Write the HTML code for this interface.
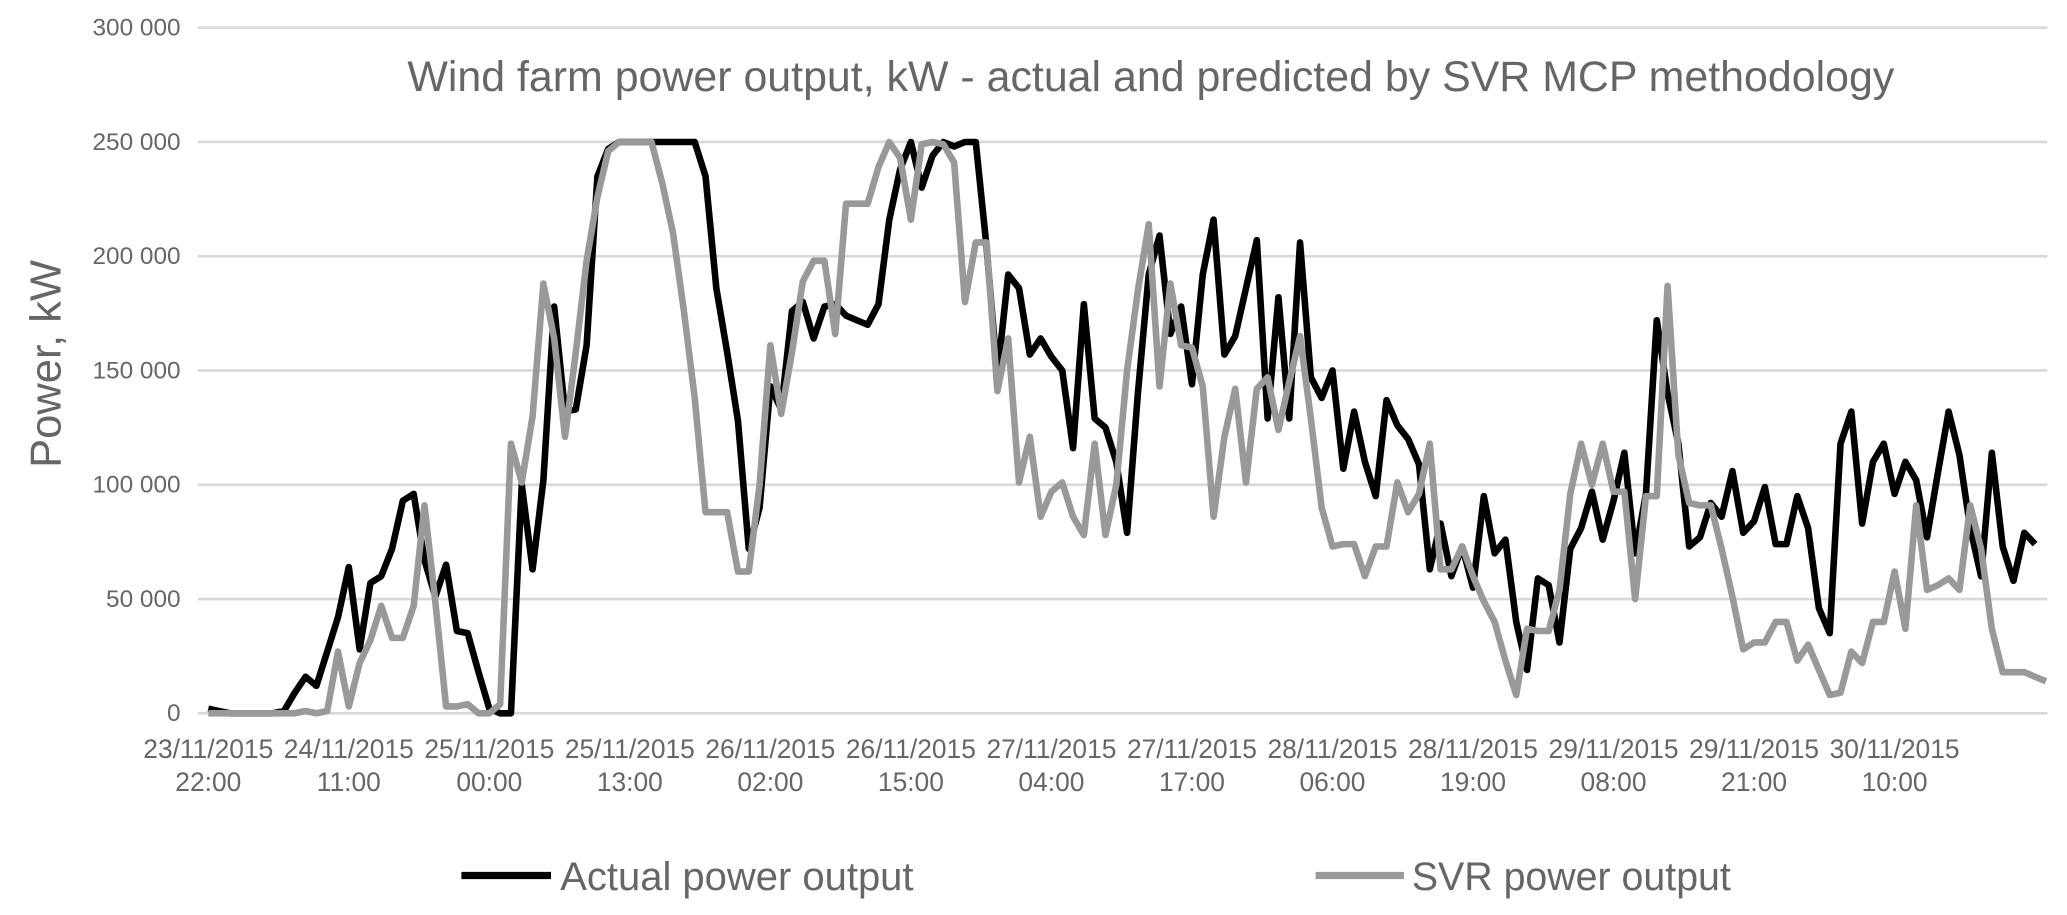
<!DOCTYPE html>
<html><head><meta charset="utf-8"><style>
html,body{margin:0;padding:0;background:#fff;}
svg{display:block;font-family:"Liberation Sans",sans-serif;}
</style></head><body>
<svg id="chart" width="2067" height="915" viewBox="0 0 1568 694" preserveAspectRatio="none" xmlns="http://www.w3.org/2000/svg">
<g id="grid"></g>
<g id="yticks"></g>
<g id="xticks"></g>
<text x="873" y="69" text-anchor="middle" font-size="32" fill="#666" textLength="1128" lengthAdjust="spacingAndGlyphs">Wind farm power output, kW - actual and predicted by SVR MCP methodology</text>
<text transform="translate(46,276) rotate(-90)" text-anchor="middle" font-size="33" fill="#666">Power, kW</text>
<g id="series"></g>
<g>
<line x1="350" y1="664" x2="418" y2="664" stroke="#000" stroke-width="5.5"/>
<text x="425" y="675" font-size="30" fill="#666" textLength="268" lengthAdjust="spacingAndGlyphs">Actual power output</text>
<line x1="998" y1="664" x2="1065" y2="664" stroke="#999" stroke-width="5.5"/>
<text x="1071" y="675" font-size="30" fill="#666" textLength="242" lengthAdjust="spacingAndGlyphs">SVR power output</text>
</g>
</svg>
<script>
const yTicks = [0, 50000, 100000, 150000, 200000, 250000, 300000];
const yTickLabels = ["0", "50 000", "100 000", "150 000", "200 000", "250 000", "300 000"];
const xTickIndex = [0, 13, 26, 39, 52, 65, 78, 91, 104, 117, 130, 143, 156];
const xTickDate = ["23/11/2015","24/11/2015","25/11/2015","25/11/2015","26/11/2015","26/11/2015","27/11/2015","27/11/2015","28/11/2015","28/11/2015","29/11/2015","29/11/2015","30/11/2015"];
const xTickTime = ["22:00","11:00","00:00","13:00","02:00","15:00","04:00","17:00","06:00","19:00","08:00","21:00","10:00"];
const actualKW = [2,1,0,0,0,0,0,1,9,16,12,27,42,64,28,57,60,72,93,96,67,51,65,36,35,18,2,0,0,100,63,102,178,132,133,161,235,247,250,250,250,250,250,250,250,250,235,186,158,128,72,90,143,133,176,180,164,178,179,174,172,170,179,216,238,250,230,244,250,248,250,250,204,148,192,186,157,164,156,150,116,179,129,125,110,79,140,192,209,166,178,144,192,216,157,165,186,207,129,182,129,206,147,138,150,107,132,110,95,137,126,120,109,63,83,60,73,55,95,70,76,40,19,59,56,31,72,81,97,76,93,114,70,96,172,140,118,73,77,92,86,106,79,84,99,74,74,95,81,46,35,118,132,83,110,118,96,110,102,77,105,132,113,81,60,114,73,58,79,74];
const svrKW = [0,0,0,0,0,0,0,0,0,1,0,1,27,3,22,32,47,33,33,47,91,49,3,3,4,0,0,4,118,101,130,188,164,121,158,198,226,246,250,250,250,250,232,210,176,138,88,88,88,62,62,100,161,131,158,189,198,198,166,223,223,223,239,250,243,216,249,250,249,241,180,206,206,141,164,101,121,86,97,101,86,78,118,78,100,150,185,214,143,188,161,160,143,86,121,142,101,142,147,124,145,165,129,90,73,74,74,60,73,73,101,88,96,118,63,63,73,60,49,40,23,8,37,36,36,54,96,118,100,118,97,97,50,95,95,187,113,92,91,91,72,51,28,31,31,40,40,23,30,19,8,9,27,22,40,40,62,37,91,54,56,59,54,91,72,37,18,18,18,16,14];

const NS = "http://www.w3.org/2000/svg";
const X0 = 158, STEP = 8.2, Y0 = 541, YPX = 520 / 300000;
function xPos(i){ return X0 + i * STEP; }
function yPos(v){ return Y0 - v * YPX; }
function mk(tag, attrs){ const e = document.createElementNS(NS, tag); for (const k in attrs) e.setAttribute(k, attrs[k]); return e; }

const grid = document.getElementById('grid'), yt = document.getElementById('yticks'), xt = document.getElementById('xticks'), ser = document.getElementById('series');
yTicks.forEach((v, k) => {
  const l = mk('line', {x1: 150, x2: 1553, y1: yPos(v), y2: yPos(v), stroke: '#d9d9d9', 'stroke-width': 2});
  
  
  grid.appendChild(l);
  const t = mk('text', {x: 137, y: yPos(v) + 6, 'text-anchor': 'end', 'font-size': 18.5, fill: '#666'});
  t.textContent = yTickLabels[k];
  
  
  yt.appendChild(t);
});
xTickIndex.forEach((idx, k) => {
  const t = mk('text', {x: xPos(idx), y: 575, 'text-anchor': 'middle', 'font-size': 20, fill: '#666'});
  t.textContent = xTickDate[k];
  
  
  xt.appendChild(t);
  const t2 = mk('text', {x: xPos(idx), y: 600, 'text-anchor': 'middle', 'font-size': 20, fill: '#666'});
  t2.textContent = xTickTime[k];
  
  
  xt.appendChild(t2);
});
function path(arr){ return arr.map((v, i) => (i ? 'L' : 'M') + xPos(i).toFixed(1) + ' ' + yPos(v * 1000).toFixed(1)).join(' '); }
const pA = mk('path', {d: path(actualKW), fill: 'none', stroke: '#000', 'stroke-width': 5, 'stroke-linejoin': 'round'});


const pS = mk('path', {d: path(svrKW), fill: 'none', stroke: '#999', 'stroke-width': 5, 'stroke-linejoin': 'round'});


ser.appendChild(pA);
ser.appendChild(pS);
</script>
</body></html>
